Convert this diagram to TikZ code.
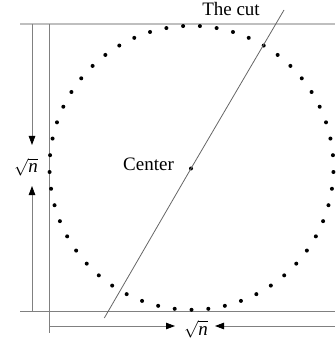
\documentclass[tikz,border=0pt]{standalone}
\usepackage{fontspec}
\setmainfont{Liberation Serif}
\usetikzlibrary{arrows.meta}
\begin{document}
\begin{tikzpicture}[x=1pt,y=-1pt,
  lbl/.style={font=\fontsize{19}{21}\selectfont, inner sep=0pt, anchor=base},
  guide/.style={draw=black!50, line width=0.8pt},
  topguide/.style={draw=black!25, line width=1.6pt},
  arr/.style={guide, -{Triangle[length=9pt,width=6.5pt,color=black]}},
  dotm/.style={circle, fill=black, inner sep=0pt, minimum size=4pt},
  cutline/.style={draw=black!60, line width=0.8pt}]
\useasboundingbox (0,0) rectangle (335,344);
% frame coordinates
\coordinate (tl) at (20,24);
\coordinate (tr) at (335,24);
\coordinate (bl) at (20,311.5);
\coordinate (br) at (335,311.5);
\coordinate (vt) at (49.3,24);
\coordinate (vb) at (49.3,333);
\coordinate (lat) at (32,24);
\coordinate (lab) at (32,311.5);
\coordinate (bal) at (49.3,326);
\coordinate (bar) at (335,326);
\draw[topguide] (tl) -- (tr);
\draw[guide] (bl) -- (br);
\draw[guide] (vt) -- (vb);
% labels
\node[lbl] (sqL) at (26,173) {$\sqrt{\textit{n}}$};
\node[lbl] (sqB) at (196,335) {$\sqrt{\textit{n}}$};
\node[lbl] (ctrlbl) at (148.5,170.7) {Center};
\node[lbl] (cutlbl) at (231,15.5) {The cut};
% arrows
\coordinate (la1) at (32,145);
\coordinate (la2) at (32,186);
\coordinate (ba1) at (175,326);
\coordinate (ba2) at (215,326);
\draw[arr] (lat) -- (la1);
\draw[arr] (lab) -- (la2);
\draw[arr] (bal) -- (ba1);
\draw[arr] (bar) -- (ba2);
% circle of dots
\foreach \i in {0,...,52}{
  \pgfmathsetmacro{\ang}{90+\i*6.79245}
  \node[dotm] (d\i) at ({191.5+142*cos(\ang)},{167.8+142*sin(\ang)}) {};
}
\node[dotm] (ctr) at (191,168.5) {};
% the cut
\coordinate (cutA) at (284,10);
\coordinate (cutB) at (104.3,318);
\draw[cutline] (cutA) -- (ctr.center) -- (cutB);
\end{tikzpicture}
\end{document}
